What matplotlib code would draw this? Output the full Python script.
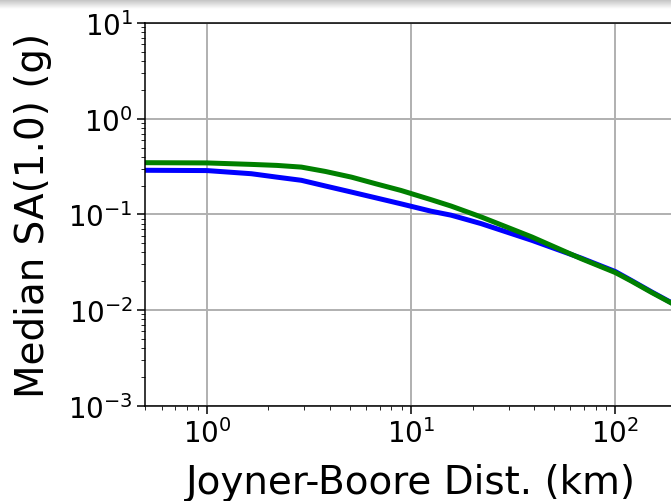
import matplotlib
matplotlib.use('Agg')
import matplotlib.pyplot as plt
import numpy as np

# distances (km) and median SA(1.0) for the two models
dist = [0.5, 1, 1.65, 2.2, 2.9, 3.8, 5.1, 6.7, 8.9, 12.5, 15.7, 22, 39, 68, 100, 120, 150, 200]
sa_blue = [0.289, 0.287, 0.266, 0.245, 0.227, 0.198, 0.171, 0.149, 0.129, 0.108, 0.098,
           0.080, 0.0535, 0.0349, 0.0252, 0.0203, 0.0155, 0.0111]
sa_green = [0.347, 0.345, 0.333, 0.325, 0.312, 0.281, 0.245, 0.209, 0.178, 0.1425, 0.122,
            0.094, 0.058, 0.0344, 0.0246, 0.0200, 0.0153, 0.0110]

fig = plt.figure(figsize=(6.71, 5.02), dpi=100)
# axes runs just past the right edge, like the cropped reference
ax = fig.add_axes([0.2168, 0.19, 0.792, 0.762])

ax.plot(dist, sa_blue, color='b', lw=3.6)
ax.plot(dist, sa_green, color='g', lw=3.6)

ax.set_xscale('log')
ax.set_yscale('log')
ax.set_xlim(0.5, 200)
ax.set_ylim(1e-3, 10)
ax.grid(True, which='major', color='#b0b0b0', lw=1.4)
ax.tick_params(labelsize=20, width=1.1)
ax.tick_params(which='major', length=5.5)
ax.tick_params(which='minor', length=3)
for s in ax.spines.values():
    s.set_linewidth(1.1)
ax.set_xlabel('Joyner-Boore Dist. (km)', fontsize=28, labelpad=11)
ax.set_ylabel('Median SA(1.0) (g)', fontsize=28, labelpad=12)

# grey shadow along the top edge of the screenshot
shade = fig.add_axes([0, 0.98, 1, 0.02])
grad = np.linspace(0.72, 1.0, 50).reshape(-1, 1)
shade.imshow(grad, cmap='gray', vmin=0, vmax=1, aspect='auto')
shade.axis('off')

fig.savefig('out.png', dpi=100)
